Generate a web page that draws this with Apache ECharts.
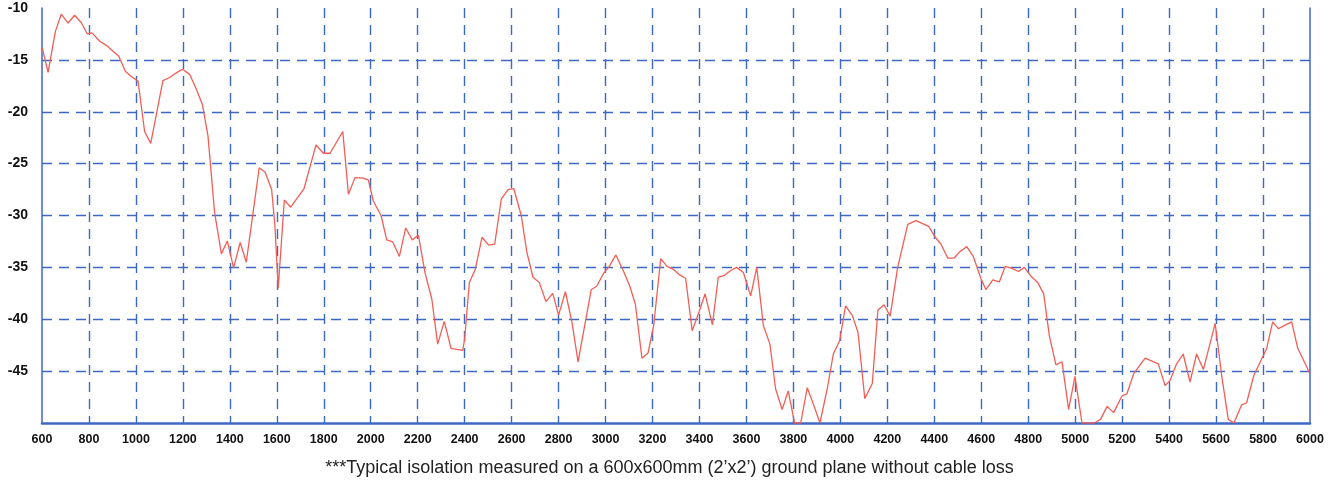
<!DOCTYPE html>
<html>
<head>
    <meta charset="UTF-8">
    <title>Isolation</title>
</head>
<script src="https://cdn.jsdelivr.net/npm/echarts@6/dist/echarts.min.js"></script>
<body style="margin:0">
    <div id="echarts" style="height: 481px;width:1339px"></div>
</body>
<script>
    // frequency (MHz) and isolation (dB)
    const freqs = [601, 626, 657, 682, 711, 739, 767, 793, 813, 846, 874, 927, 955, 980, 1009, 1037, 1063, 1115, 1144, 1172,
      1198, 1229, 1257, 1283, 1307, 1335, 1364, 1389, 1416, 1444, 1470, 1525, 1550, 1578, 1592, 1606, 1632, 1659, 1716, 1767,
      1798, 1827, 1881, 1905, 1933, 1968, 1990, 2011, 2044, 2068, 2094, 2122, 2149, 2177, 2203, 2231, 2260, 2285, 2313, 2342,
      2392, 2400, 2420, 2445, 2474, 2502, 2528, 2556, 2585, 2609, 2641, 2665, 2691, 2718, 2746, 2775, 2800, 2829, 2857, 2883,
      2939, 2963, 2992, 3017, 3044, 3077, 3103, 3127, 3155, 3181, 3205, 3235, 3262, 3290, 3317, 3341, 3369, 3398, 3424, 3455,
      3480, 3504, 3533, 3558, 3587, 3618, 3644, 3672, 3700, 3724, 3752, 3778, 3805, 3831, 3859, 3887, 3913, 3944, 3970, 3997,
      4022, 4051, 4075, 4104, 4136, 4160, 4186, 4212, 4244, 4287, 4322, 4376, 4404, 4428, 4457, 4485, 4506, 4538, 4566, 4599,
      4620, 4649, 4677, 4702, 4731, 4759, 4783, 4812, 4840, 4866, 4890, 4918, 4944, 4972, 4999, 5029, 5081, 5108, 5136, 5164,
      5199, 5220, 5249, 5298, 5354, 5383, 5404, 5432, 5460, 5489, 5517, 5546, 5596, 5624, 5652, 5676, 5709, 5730, 5761, 5815,
      5841, 5865, 5922, 5948, 6000];
    const isolation = [-13.85, -16.2, -12.25, -10.6, -11.45, -10.7, -11.4, -12.5, -12.4, -13.2, -13.6, -14.65, -16.1, -16.6, -17.05, -21.9, -23.05, -17.0, -16.7, -16.25,
      -15.9, -16.4, -17.8, -19.3, -22.35, -29.7, -33.7, -32.45, -35.05, -32.6, -34.5, -25.4, -25.8, -27.5, -31.0, -37.0, -28.5, -29.2, -27.4, -23.2,
      -24.0, -24.0, -21.9, -27.95, -26.35, -26.4, -26.6, -28.6, -30.0, -32.35, -32.55, -33.95, -31.2, -32.35, -31.9, -35.5, -38.05, -42.4, -40.2, -42.8,
      -43.0, -41.9, -36.45, -35.2, -32.1, -32.85, -32.75, -28.4, -27.5, -27.4, -30.0, -33.55, -35.95, -36.45, -38.3, -37.5, -39.6, -37.35, -40.3, -44.1,
      -37.15, -36.8, -35.55, -34.85, -33.8, -35.4, -36.8, -38.55, -43.75, -43.25, -40.6, -34.15, -34.9, -35.2, -35.75, -36.05, -41.1, -39.3, -37.55, -40.55,
      -35.95, -35.8, -35.3, -35.0, -35.5, -37.75, -35.0, -40.6, -42.4, -46.7, -48.7, -46.9, -50, -50, -46.6, -48.3, -50, -46.7, -43.35, -42.05,
      -38.7, -39.65, -41.25, -47.65, -46.2, -39.1, -38.6, -39.7, -35.0, -30.85, -30.5, -31.05, -32.1, -32.75, -34.1, -34.1, -33.55, -33.0, -33.95, -36.1,
      -37.15, -36.2, -36.4, -34.9, -35.1, -35.4, -35.0, -35.85, -36.45, -37.55, -41.6, -44.4, -44.1, -48.7, -45.5, -50, -50, -49.65, -48.4, -49.0,
      -47.4, -47.2, -45.25, -43.75, -44.3, -46.4, -45.9, -44.3, -43.35, -46.05, -43.35, -44.85, -40.4, -45.45, -49.65, -50, -48.25, -48.05, -45.4, -42.85,
      -40.25, -40.9, -40.25, -42.8, -45.25];
    const xRange = [600, 6000];
    const yRange = [-50, -10];
    const caption = '***Typical isolation measured on a 600x600mm (2\u2019x2\u2019) ground plane without cable loss';

    const blue = '#3d68c4';
    const font = '"Liberation Sans", Arial, sans-serif';
    const gridLine = { show: true, showMinLine: false, showMaxLine: false, lineStyle: { color: blue, type: [10, 7], width: 1.4 } };

    let myChart = echarts.init(document.getElementById('echarts'));

    let option = {
      animation: false,
      title: {
        text: caption,
        left: 'center',
        top: 454,
        textStyle: { fontFamily: font, fontSize: 18, fontWeight: 'normal', color: '#222' },
      },
      grid: { left: 42, right: 29, top: 8, bottom: 58 },
      xAxis: {
        type: 'value',
        min: xRange[0],
        max: xRange[1],
        interval: 200,
        axisLine: { lineStyle: { color: blue, width: 2.5 } },
        axisTick: { show: false },
        axisLabel: { color: '#111', fontFamily: font, fontWeight: 'bold', fontSize: 12.5, margin: 10, formatter: v => String(v) },
        splitLine: gridLine,
      },
      yAxis: [
        {
          type: 'value',
          min: yRange[0],
          max: yRange[1],
          interval: 5,
          axisLine: { show: true, lineStyle: { color: blue, width: 1.5 } },
          axisTick: { show: false },
          axisLabel: { showMinLabel: false, color: '#111', fontFamily: font, fontWeight: 'bold', fontSize: 14, margin: 14 },
          splitLine: gridLine,
        },
        {
          type: 'value',
          position: 'right',
          min: yRange[0],
          max: yRange[1],
          axisLine: { show: true, lineStyle: { color: blue, width: 1.5 } },
          axisTick: { show: false },
          axisLabel: { show: false },
          splitLine: { show: false },
        },
      ],
      series: [
        {
          type: 'line',
          data: freqs.map((f, i) => [f, isolation[i]]),
          showSymbol: false,
          lineStyle: { color: '#f25e55', width: 1.3 },
          z: 10,
        },
      ],
    };
    myChart.setOption(option);
</script>
</html>
